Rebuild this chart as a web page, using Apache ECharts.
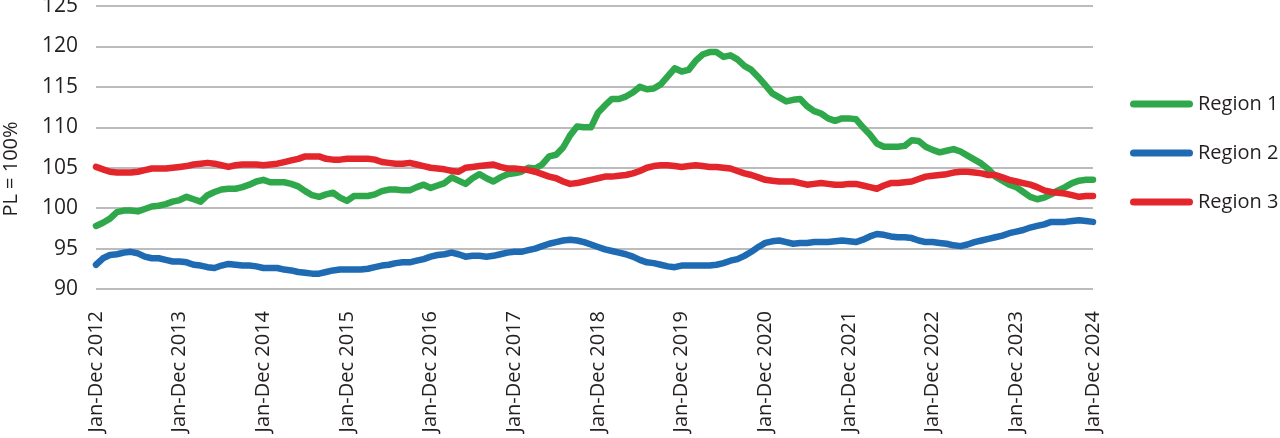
<!DOCTYPE html>
<html>
<head>
<meta charset="utf-8">
<script src="https://cdn.jsdelivr.net/npm/echarts@6/dist/echarts.min.js"></script>
<style>
html,body{margin:0;padding:0;background:#fff;}
#chart{width:1280px;height:438px;}
</style>
</head>
<body>
<div id="chart"></div>
<script>
const tickLabels = ['Jan-Dec 2012','Jan-Dec 2013','Jan-Dec 2014','Jan-Dec 2015','Jan-Dec 2016','Jan-Dec 2017','Jan-Dec 2018','Jan-Dec 2019','Jan-Dec 2020','Jan-Dec 2021','Jan-Dec 2022','Jan-Dec 2023','Jan-Dec 2024'];
const seriesNames = ['Region 1','Region 2','Region 3'];

const region1 = [
97.8,98.2,98.7,99.5,99.7,99.7,99.6,99.9,100.2,100.3,100.5,100.8,
101.0,101.4,101.1,100.8,101.6,102.0,102.3,102.4,102.4,102.6,102.9,103.3,
103.5,103.2,103.2,103.2,103.0,102.7,102.1,101.6,101.4,101.7,101.9,101.3,
100.9,101.5,101.5,101.5,101.7,102.1,102.3,102.3,102.2,102.2,102.6,102.9,
102.5,102.8,103.1,103.8,103.4,103.0,103.7,104.2,103.7,103.3,103.8,104.2,
104.3,104.5,105.0,104.9,105.4,106.4,106.6,107.5,109.0,110.1,110.0,110.0,
111.8,112.7,113.5,113.5,113.8,114.3,115.0,114.7,114.8,115.3,116.3,117.3,
116.9,117.1,118.2,119.0,119.3,119.3,118.7,118.9,118.4,117.6,117.1,116.2,
115.2,114.2,113.7,113.2,113.4,113.5,112.6,112.0,111.7,111.1,110.8,111.1,
111.1,111.0,110.0,109.1,108.0,107.6,107.6,107.6,107.7,108.4,108.3,107.6,
107.2,106.9,107.1,107.3,107.0,106.5,106.0,105.5,104.8,103.9,103.4,102.9,
102.6,102.0,101.4,101.1,101.3,101.7,102.2,102.6,103.1,103.4,103.5,103.5
];
const region2 = [
93.0,93.8,94.2,94.3,94.5,94.6,94.4,94.0,93.8,93.8,93.6,93.4,
93.4,93.3,93.0,92.9,92.7,92.6,92.9,93.1,93.0,92.9,92.9,92.8,
92.6,92.6,92.6,92.4,92.3,92.1,92.0,91.9,91.9,92.1,92.3,92.4,
92.4,92.4,92.4,92.5,92.7,92.9,93.0,93.2,93.3,93.3,93.5,93.7,
94.0,94.2,94.3,94.5,94.3,94.0,94.1,94.1,94.0,94.1,94.3,94.5,
94.6,94.6,94.8,95.0,95.3,95.6,95.8,96.0,96.1,96.0,95.8,95.5,
95.2,94.9,94.7,94.5,94.3,94.0,93.6,93.3,93.2,93.0,92.8,92.7,
92.9,92.9,92.9,92.9,92.9,93.0,93.2,93.5,93.7,94.1,94.6,95.2,
95.7,95.9,96.0,95.8,95.6,95.7,95.7,95.8,95.8,95.8,95.9,96.0,
95.9,95.8,96.1,96.5,96.8,96.7,96.5,96.4,96.4,96.3,96.0,95.8,
95.8,95.7,95.6,95.4,95.3,95.5,95.8,96.0,96.2,96.4,96.6,96.9,
97.1,97.3,97.6,97.8,98.0,98.3,98.3,98.3,98.4,98.5,98.4,98.3
];
const region3 = [
105.1,104.8,104.5,104.4,104.4,104.4,104.5,104.7,104.9,104.9,104.9,105.0,
105.1,105.2,105.4,105.5,105.6,105.5,105.3,105.1,105.3,105.4,105.4,105.4,
105.3,105.4,105.5,105.7,105.9,106.1,106.4,106.4,106.4,106.1,106.0,106.0,
106.1,106.1,106.1,106.1,106.0,105.7,105.6,105.5,105.5,105.6,105.4,105.2,
105.0,104.9,104.8,104.6,104.5,105.0,105.1,105.2,105.3,105.4,105.1,104.9,
104.9,104.8,104.7,104.5,104.2,103.9,103.7,103.3,103.0,103.1,103.3,103.5,
103.7,103.9,103.9,104.0,104.1,104.3,104.6,105.0,105.2,105.3,105.3,105.2,
105.1,105.2,105.3,105.2,105.1,105.1,105.0,104.9,104.6,104.3,104.1,103.8,
103.5,103.4,103.3,103.3,103.3,103.1,102.9,103.0,103.1,103.0,102.9,102.9,
103.0,103.0,102.8,102.6,102.4,102.8,103.1,103.1,103.2,103.3,103.6,103.9,
104.0,104.1,104.2,104.4,104.5,104.5,104.4,104.3,104.1,104.1,103.8,103.5,
103.3,103.1,102.9,102.6,102.2,102.0,101.9,101.8,101.6,101.4,101.5,101.5
];
const colors = ['#2ea84a','#1e6bb3','#e3262b'];

const months = ['Jan','Feb','Mar','Apr','May','Jun','Jul','Aug','Sep','Oct','Nov','Dec'];
const categories = region1.map(function(_, i){
  const s = i % 12, y = 2012 + Math.floor(i / 12);
  if (s === 0) return 'Jan-Dec ' + y;
  return months[s] + ' ' + y + '-' + months[(s + 11) % 12] + ' ' + (y + 1);
});
const lastIdx = categories.length - 1;

const FONT = 'Open Sans';
const chart = echarts.init(document.getElementById('chart'), null, {renderer:'canvas'});
const legendIcon = 'path://M3.5,0H59.5A3.5,3.5,0,0,1,59.5,7H3.5A3.5,3.5,0,0,1,3.5,0Z';

chart.setOption({
  animation: false,
  backgroundColor: '#ffffff',
  textStyle: {fontFamily: FONT},
  grid: {left: 96, right: 187, top: 6, bottom: 149, containLabel: false, outerBoundsMode: 'none'},
  legend: {
    orient: 'vertical',
    left: 1125,
    top: 87,
    itemWidth: 63,
    itemHeight: 7,
    itemGap: 25,
    icon: legendIcon,
    selectedMode: false,
    textStyle: {fontFamily: FONT, fontSize: 20, color: '#231f20', lineHeight: 24},
    data: seriesNames.map(function(n, k){ return {name: n, icon: legendIcon, itemStyle: {color: colors[k]}}; })
  },
  graphic: [{
    type: 'text',
    x: 11, y: 169,
    rotation: Math.PI / 2,
    style: {text: 'PL = 100%', fontFamily: FONT, fontSize: 20, fill: '#231f20', align: 'center', verticalAlign: 'middle'}
  }],
  xAxis: {
    type: 'category',
    data: categories,
    boundaryGap: false,
    axisLine: {show: false},
    axisTick: {show: false},
    splitLine: {show: false},
    axisLabel: {
      rotate: 90,
      margin: 22,
      fontFamily: FONT,
      fontSize: 20,
      color: '#231f20',
      hideOverlap: false,
      interval: function(index){ return index % 12 === 0 || index === lastIdx; },
      formatter: function(value, index){
        if (index === lastIdx) return tickLabels[tickLabels.length - 1];
        return tickLabels[index / 12] || value;
      }
    }
  },
  yAxis: {
    type: 'value',
    min: 90, max: 125, interval: 5,
    axisLine: {show: false},
    axisTick: {show: false},
    axisLabel: {margin: 18, fontFamily: FONT, fontSize: 21, color: '#231f20'},
    splitLine: {show: true, lineStyle: {color: '#bcbcbc', width: 2}}
  },
  series: [region1, region2, region3].map(function(d, k){
    return {
      name: seriesNames[k],
      type: 'line',
      data: d,
      symbol: 'none',
      showSymbol: false,
      smooth: false,
      color: colors[k],
      lineStyle: {color: colors[k], width: 6.5, cap: 'round', join: 'round'},
      emphasis: {disabled: true}
    };
  })
});
</script>
</body>
</html>
